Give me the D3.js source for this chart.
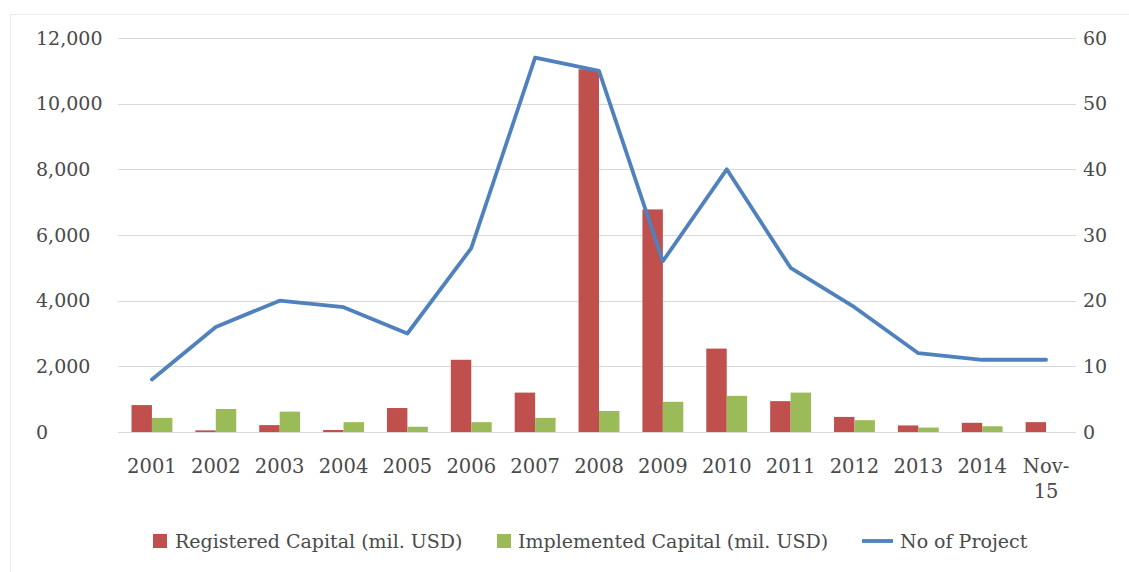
<!DOCTYPE html>
<html>
<head>
<meta charset="utf-8">
<script src="https://cdn.jsdelivr.net/npm/d3@7"></script>
<style>
  html, body { margin: 0; padding: 0; background: #fff; }
  svg { display: block; }
</style>
</head>
<body>
<svg id="chart" width="1129" height="572"></svg>
<script>
const categories = ["2001","2002","2003","2004","2005","2006","2007","2008","2009","2010","2011","2012","2013","2014","Nov-15"];
const registeredCapital = [820, 50, 210, 60, 730, 2200, 1200, 11050, 6780, 2540, 940, 460, 200, 280, 300];
const implementedCapital = [430, 700, 620, 300, 160, 300, 430, 640, 920, 1100, 1200, 360, 135, 175, 0];
const projects = [8, 16, 20, 19, 15, 28, 57, 55, 26, 40, 25, 19, 12, 11, 11];
const leftTicks = [0, 2000, 4000, 6000, 8000, 10000, 12000];
const rightTicks = [0, 10, 20, 30, 40, 50, 60];
const seriesNames = ["Registered Capital (mil. USD)", "Implemented Capital (mil. USD)", "No of Project"];

const colors = { reg: "#C0504D", imp: "#9BBB59", line: "#4F81BD" };
const textColor = "#4a4a4a";
const font = "'DejaVu Serif', serif";

const svg = d3.select("#chart");

// faint outer frame
svg.append("rect").attr("x", 10.5).attr("y", 14.5).attr("width", 1130).attr("height", 560)
  .attr("fill", "none").attr("stroke", "#ececec");

const x = d3.scaleBand().domain(categories).range([120, 1078]).paddingInner(0.36).paddingOuter(0.18);
const x1 = d3.scaleBand().domain(["reg", "imp"]).range([0, x.bandwidth()]).padding(0);
const yL = d3.scaleLinear().domain([0, 12000]).range([432, 38]);
const yR = d3.scaleLinear().domain([0, 60]).range([432, 38]);

// gridlines
svg.append("g").selectAll("line").data(leftTicks).join("line")
  .attr("x1", 118).attr("x2", 1076)
  .attr("y1", d => Math.round(yL(d)) + 0.5).attr("y2", d => Math.round(yL(d)) + 0.5)
  .attr("stroke", "#d9d9d9").attr("stroke-width", 1);

// left axis labels (left aligned)
svg.append("g").selectAll("text").data(leftTicks).join("text")
  .attr("x", 36).attr("y", d => yL(d)).attr("dy", "0.35em")
  .attr("font-family", font).attr("font-size", 19).attr("fill", textColor)
  .text(d => d3.format(",")(d));

// right axis labels
svg.append("g").selectAll("text").data(rightTicks).join("text")
  .attr("x", 1083).attr("y", d => yR(d)).attr("dy", "0.35em")
  .attr("font-family", font).attr("font-size", 19).attr("fill", textColor)
  .text(d => d);

// bars
const rows = categories.map((c, i) => ({ c, reg: registeredCapital[i], imp: implementedCapital[i] }));
const grp = svg.append("g").selectAll("g").data(rows).join("g")
  .attr("transform", d => `translate(${x(d.c)},0)`);
grp.selectAll("rect").data(d => [{ k: "reg", v: d.reg }, { k: "imp", v: d.imp }]).join("rect")
  .attr("x", d => x1(d.k)).attr("width", x1.bandwidth())
  .attr("y", d => yL(d.v)).attr("height", d => yL(0) - yL(d.v))
  .attr("fill", d => colors[d.k]);

// line
const line = d3.line().x((d, i) => x(categories[i]) + x.bandwidth() / 2).y(d => yR(d));
svg.append("path").datum(projects).attr("d", line)
  .attr("fill", "none").attr("stroke", colors.line).attr("stroke-width", 3.8)
  .attr("stroke-linejoin", "round").attr("stroke-linecap", "round");

// x labels
const xl = svg.append("g").selectAll("text").data(categories).join("text")
  .attr("x", d => x(d) + x.bandwidth() / 2).attr("y", 466)
  .attr("text-anchor", "middle")
  .attr("font-family", font).attr("font-size", 19.5).attr("fill", textColor);
xl.each(function(d) {
  const t = d3.select(this);
  if (d.includes("-")) {
    const parts = d.split("-");
    t.append("tspan").attr("x", x(d) + x.bandwidth() / 2).attr("dy", "0.35em").text(parts[0] + "-");
    t.append("tspan").attr("x", x(d) + x.bandwidth() / 2).attr("dy", "1.3em").text(parts[1]);
  } else {
    t.append("tspan").attr("dy", "0.35em").text(d);
  }
});

// legend
const lg = svg.append("g").attr("font-family", font).attr("font-size", 19).attr("fill", textColor);
lg.append("rect").attr("x", 153).attr("y", 534).attr("width", 14).attr("height", 14).attr("fill", colors.reg);
lg.append("text").attr("x", 175).attr("y", 541).attr("dy", "0.35em").text(seriesNames[0]);
lg.append("rect").attr("x", 497).attr("y", 534).attr("width", 14).attr("height", 14).attr("fill", colors.imp);
lg.append("text").attr("x", 518).attr("y", 541).attr("dy", "0.35em").text(seriesNames[1]);
lg.append("line").attr("x1", 862).attr("x2", 893).attr("y1", 541).attr("y2", 541)
  .attr("stroke", colors.line).attr("stroke-width", 3.8);
lg.append("text").attr("x", 900).attr("y", 541).attr("dy", "0.35em").text(seriesNames[2]);
</script>
</body>
</html>
